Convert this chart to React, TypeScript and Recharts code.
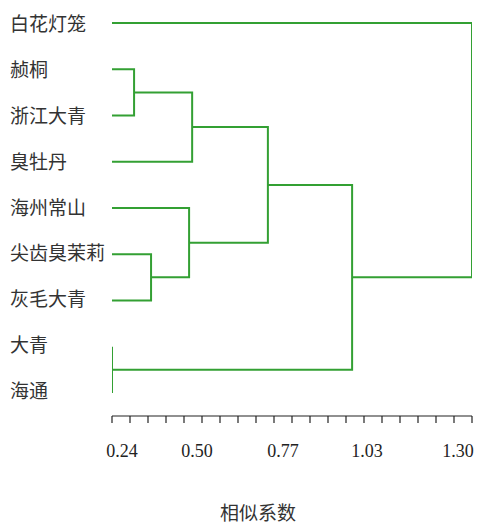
import { ComposedChart, Line, XAxis, YAxis } from 'recharts';

// leaves, top to bottom
const LEAVES = ['白花灯笼', '赪桐', '浙江大青', '臭牡丹', '海州常山', '尖齿臭茉莉', '灰毛大青', '大青', '海通'];
// merges: [node a, node b, height]; leaves are 0..8, merge k becomes node 9+k
const MERGE_A = [1, 3, 5, 4, 10, 7, 13, 0];
const MERGE_B = [2, 9, 6, 11, 12, 8, 14, 15];
const MERGE_H = [0.305, 0.476, 0.355, 0.467, 0.699, 0.24, 0.947, 1.3];
const LEAF_H = 0.24;

const AXIS_TICKS = [
  0.24, 0.293, 0.346, 0.399, 0.452, 0.505, 0.558, 0.611, 0.664, 0.717, 0.77,
  0.823, 0.876, 0.929, 0.982, 1.035, 1.088, 1.141, 1.194, 1.247, 1.3,
];
const AXIS_LABELS: Record<number, string> = { 0: '0.24', 5: '0.50', 10: '0.77', 15: '1.03', 20: '1.30' };

const GREEN = '#33a033';

// build the dendrogram links
const nodeY: number[] = LEAVES.map((_, i) => i);
const nodeH: number[] = LEAVES.map(() => LEAF_H);
const links = MERGE_A.map((a, k) => {
  const b = MERGE_B[k];
  const h = MERGE_H[k];
  nodeY.push((nodeY[a] + nodeY[b]) / 2);
  nodeH.push(h);
  return [
    { x: nodeH[a], y: nodeY[a] },
    { x: h, y: nodeY[a] },
    { x: h, y: nodeY[b] },
    { x: nodeH[b], y: nodeY[b] },
  ];
});

const labelShift = [10, -5, -9, -15, -14];

function XTick(props: any) {
  const { x, y, index } = props;
  const label = AXIS_LABELS[index];
  return (
    <g>
      <line x1={x} y1={y - 24} x2={x} y2={y - 17} stroke="#222" strokeWidth={1.2} />
      {label && (
        <text x={x + labelShift[index / 5]} y={y + 17} textAnchor="middle" fontSize={18}
          fontFamily="'Liberation Serif', serif" fill="#222">
          {label}
        </text>
      )}
    </g>
  );
}

function YTick(props: any) {
  const { y, payload } = props;
  const i = payload.value;
  return (
    <text x={10} y={y + 3 - i * 0.4} fontSize={19} dominantBaseline="middle"
      fontFamily="'Noto Sans CJK SC', sans-serif" fill="#333">
      {LEAVES[i]}
    </text>
  );
}

export default function App() {
  return (
    <div style={{ position: 'absolute', left: 0, top: 0, background: '#fff' }}>
      <ComposedChart width={481} height={524} margin={{ top: 0, right: 9, bottom: 0, left: 0 }}>
        <XAxis
          type="number"
          dataKey="x"
          domain={[0.24, 1.3]}
          ticks={AXIS_TICKS}
          interval={0}
          height={108}
          tickSize={0}
          tickMargin={24}
          stroke="#222"
          strokeWidth={1.2}
          tick={<XTick />}
          label={{ value: '相似系数', position: 'insideBottom', offset: 0, dx: -34, dy: -4, fontSize: 19, fill: '#333', fontFamily: "'Noto Sans CJK SC', sans-serif" }}
          allowDataOverflow
        />
        <YAxis
          type="number"
          dataKey="y"
          domain={[-0.5, 8.5]}
          reversed
          width={112}
          ticks={LEAVES.map((_, i) => i)}
          interval={0}
          axisLine={false}
          tickLine={false}
          tick={<YTick />}
        />
        {links.map((pts, k) => (
          <Line
            key={k}
            data={pts}
            dataKey="y"
            type="linear"
            stroke={GREEN}
            strokeWidth={2}
            dot={false}
            activeDot={false}
            isAnimationActive={false}
          />
        ))}
      </ComposedChart>
    </div>
  );
}
